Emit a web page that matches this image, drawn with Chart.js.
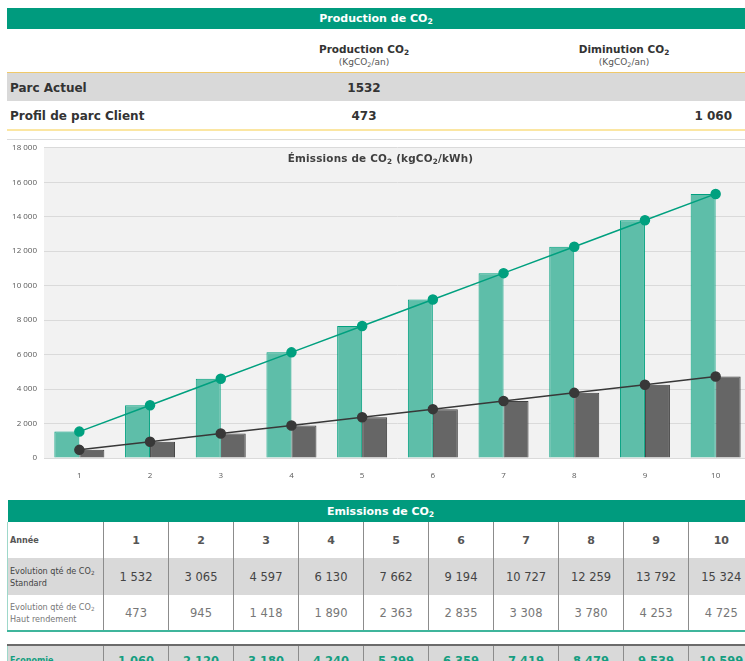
<!DOCTYPE html>
<html lang="fr">
<head>
<meta charset="utf-8">
<script src="https://cdn.jsdelivr.net/npm/chart.js@4.4.1/dist/chart.umd.min.js"></script>
<style>
  html, body { margin: 0; padding: 0; background: #fff; width: 745px; height: 661px; overflow: hidden; }
  body { position: relative; font-family: "DejaVu Sans", Verdana, sans-serif; color: #333; }
  .abs { position: absolute; }
  .bandeau { left: 7px; width: 738px; background: #009b7e; color: #fff; font-weight: bold; font-size: 11px; text-align: center; }
  .entete { width: 160px; text-align: center; font-weight: bold; font-size: 10.5px; color: #333; }
  .unite { width: 160px; text-align: center; font-size: 9px; color: #555; }
  .ligne { left: 7px; width: 738px; }
  .lib { left: 10px; font-weight: bold; font-size: 12px; color: #333; }
  .val { width: 100px; text-align: center; font-weight: bold; font-size: 12px; color: #333; }
  sub { font-size: 70%; line-height: 0; vertical-align: -0.25em; }
  #titreGraphe { left: 0; width: 761px; top: 152px; text-align: center; font-weight: bold; font-size: 10.4px; color: #404040; letter-spacing: 0.2px; }
  #zoneGraphe { left: 0; top: 136px; width: 757px; height: 342px; }
  table { border-collapse: collapse; table-layout: fixed; width: 746px; }
  td, th { padding: 0; text-align: center; border-left: 1px solid #8c8c8c; white-space: nowrap; overflow: hidden; }
  th.titre { background: #009b7e; color: #fff; font-size: 11px; height: 22px; border-left: none; }
  tr.annee td { height: 36px; font-weight: bold; font-size: 11px; color: #555; }
  tr.std td { height: 37px; background: #d9d9d9; font-size: 11.5px; color: #444; }
  tr.haut td { height: 35px; font-size: 11.5px; color: #777; border-bottom: 2px solid #3fb59c; }
  tr.eco td { height: 28px; background: #d9d9d9; font-weight: bold; font-size: 11.5px; color: #159e80; border-top: 2px solid #6b6b6b; vertical-align: top; padding-top: 8px; }
  tr td.nom { text-align: left; padding-left: 2px; font-size: 8.1px; line-height: 12px; border-left: 1px solid #9ed8ca; }
  tr.eco td.nom { font-size: 8px; font-weight: bold; color: #159e80; line-height: 14px; }
</style>
</head>
<body>
<div class="abs bandeau" style="top:8px;height:21px;line-height:21px;">Production de CO<sub>2</sub></div>

<div class="abs entete" style="left:284px;top:43px;">Production CO<sub>2</sub></div>
<div class="abs unite" style="left:284px;top:57px;">(KgCO<sub>2</sub>/an)</div>
<div class="abs entete" style="left:544px;top:43px;">Diminution CO<sub>2</sub></div>
<div class="abs unite" style="left:544px;top:57px;">(KgCO<sub>2</sub>/an)</div>

<div class="abs ligne" style="top:72px;height:28px;background:#d9d9d9;border-top:1px solid #f0c96a;"></div>
<div class="abs ligne" style="top:129px;height:2px;background:#fbe6a2;"></div>
<div class="abs lib" style="top:81px;">Parc Actuel</div>
<div class="abs val" id="prodActuel" style="left:314px;top:81px;"></div>
<div class="abs lib" style="top:109px;">Profil de parc Client</div>
<div class="abs val" id="prodClient" style="left:314px;top:109px;"></div>
<div class="abs val" id="diminution" style="left:632px;top:109px;text-align:right;"></div>

<div class="abs ligne" style="top:139px;height:1px;background:#dcdcdc;"></div>
<div class="abs" id="zoneGraphe"><canvas id="graphe" width="757" height="342"></canvas></div>
<div class="abs" id="titreGraphe">Émissions de CO<sub>2</sub> (kgCO<sub>2</sub>/kWh)</div>

<div class="abs" style="left:7px;top:500px;">
  <table id="tableau"></table>
</div>

<script>
const annees = [1, 2, 3, 4, 5, 6, 7, 8, 9, 10];
const standard = [1532, 3065, 4597, 6130, 7662, 9194, 10727, 12259, 13792, 15324];
const hautRendement = [473, 945, 1418, 1890, 2363, 2835, 3308, 3780, 4253, 4725];
const economie = [1060, 2120, 3180, 4240, 5299, 6359, 7419, 8479, 9539, 10599];
const ticksY = [0, 2000, 4000, 6000, 8000, 10000, 12000, 14000, 16000, 18000];

const vert = '#00a07f';
const gris = '#383838';

const format = (v) => String(v).replace(/\B(?=(\d{3})+(?!\d))/g, ' ');

document.getElementById('prodActuel').textContent = standard[0];
document.getElementById('prodClient').textContent = hautRendement[0];
document.getElementById('diminution').textContent = format(economie[0]);

// tableau du bas
const tableau = document.getElementById('tableau');
let html = '<colgroup><col style="width:96px">' + annees.map(() => '<col style="width:65px">').join('') + '</colgroup>';
html += '<tr><th class="titre" colspan="11">Emissions de CO<sub>2</sub></th></tr>';
html += '<tr class="annee"><td class="nom" style="font-weight:bold">Année</td>' + annees.map(a => '<td>' + a + '</td>').join('') + '</tr>';
html += '<tr class="std"><td class="nom">Evolution qté de CO<sub>2</sub><br>Standard</td>' + standard.map(v => '<td>' + format(v) + '</td>').join('') + '</tr>';
html += '<tr class="haut"><td class="nom">Evolution qté de CO<sub>2</sub><br>Haut rendement</td>' + hautRendement.map(v => '<td>' + format(v) + '</td>').join('') + '</tr>';
html += '<tr><td colspan="11" style="height:12px;border:none"></td></tr>';
html += '<tr class="eco"><td class="nom">Economie</td>' + economie.map(v => '<td>' + format(v) + '</td>').join('') + '</tr>';
tableau.innerHTML = html;

// fond gris de la zone de tracé
const fondZone = {
    id: 'fondZone',
    beforeDraw(chart) {
        const { ctx, chartArea } = chart;
        ctx.save();
        ctx.fillStyle = '#f2f2f2';
        ctx.fillRect(chartArea.left, chartArea.top, chartArea.right - chartArea.left, chartArea.bottom - chartArea.top);
        ctx.restore();
    }
};

const ctx = document.getElementById('graphe').getContext('2d');
new Chart(ctx, {
    data: {
        labels: annees,
        datasets: [
            {
                type: 'line',
                data: standard,
                borderColor: vert,
                backgroundColor: vert,
                borderWidth: 1.5,
                pointRadius: 4.5,
                order: 0
            },
            {
                type: 'line',
                data: hautRendement,
                borderColor: gris,
                backgroundColor: gris,
                borderWidth: 1.5,
                pointRadius: 4.5,
                order: 0
            },
            {
                type: 'bar',
                data: standard,
                backgroundColor: '#5ebea9',
                borderColor: vert,
                borderWidth: 1,
                categoryPercentage: 0.707,
                barPercentage: 1,
                order: 1
            },
            {
                type: 'bar',
                data: hautRendement,
                backgroundColor: '#666666',
                borderColor: '#404040',
                borderWidth: 1,
                categoryPercentage: 0.707,
                barPercentage: 1,
                order: 1
            }
        ]
    },
    options: {
        responsive: false,
        animation: false,
        layout: { padding: { top: 8, right: 0, left: 0, bottom: 0 } },
        plugins: { legend: { display: false }, tooltip: { enabled: false } },
        scales: {
            x: {
                grid: { display: false },
                border: { display: false },
                ticks: { color: '#595959', font: { family: 'Open Sans', size: 8 }, padding: 5 },
                afterFit: (s) => { s.height = 20; }
            },
            y: {
                min: 0,
                max: 18000,
                grid: { color: '#dadada', drawTicks: false },
                border: { display: false },
                afterBuildTicks: (s) => { s.ticks = ticksY.map(v => ({ value: v })); },
                ticks: {
                    color: '#595959',
                    font: { family: 'Open Sans', size: 8 },
                    padding: 7,
                    callback: (v) => format(v)
                },
                afterFit: (s) => { s.width = 44; }
            }
        }
    },
    plugins: [fondZone]
});
</script>
</body>
</html>
